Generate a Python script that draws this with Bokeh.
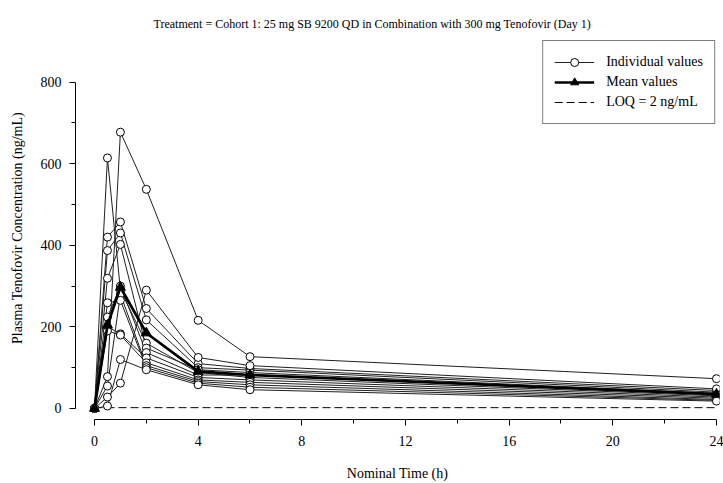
from bokeh.plotting import figure
from bokeh.models import Range1d, FixedTicker, Legend, LegendItem
from bokeh.embed import file_html
from bokeh.resources import INLINE

# ---------------- data ----------------
times = [0, 0.5, 1, 2, 4, 6, 24]

subj_01 = [0, 78, 677, 537, 216, 127, 73]
subj_02 = [0, 614, 290, 160, 88, 76, 31]
subj_03 = [0, 420, 457, 245, 110, 98, 44]
subj_04 = [0, 387, 430, 217, 100, 94, 40]
subj_05 = [0, 319, 402, 148, 95, 88, 37]
subj_06 = [0, 28, 62, 290, 125, 105, 48]
subj_07 = [0, 224, 300, 137, 82, 82, 34]
subj_08 = [0, 200, 183, 124, 76, 70, 28]
subj_09 = [0, 190, 180, 112, 70, 64, 25]
subj_10 = [0, 55, 280, 105, 66, 58, 22]
subj_11 = [0, 259, 265, 100, 62, 52, 20]
subj_12 = [0, 6, 120, 95, 58, 46, 18]

mean_values = [0, 204, 297, 185, 91, 82, 35]

loq_times = [0, 24]
loq_value = 2

x_ticks = [0, 4, 8, 12, 16, 20, 24]
x_minor = [2, 6, 10, 14, 18, 22]
y_ticks = [0, 200, 400, 600, 800]
y_minor = [100, 300, 500, 700]

subjects = [subj_01, subj_02, subj_03, subj_04, subj_05, subj_06,
            subj_07, subj_08, subj_09, subj_10, subj_11, subj_12]

TITLE = "Treatment = Cohort 1: 25 mg SB 9200 QD in Combination with 300 mg Tenofovir (Day 1)"
FONT = "Liberation Serif"

# ---------------- figure ----------------
p = figure(width=723, height=483, output_backend="svg", toolbar_location=None,
           x_range=Range1d(-0.733, 24.116), y_range=Range1d(-27, 911.5),
           min_border_left=75, min_border_right=4, min_border_top=36,
           min_border_bottom=64, title=TITLE)
p.outline_line_color = None
p.xgrid.visible = False
p.ygrid.visible = False
p.background_fill_color = "white"
p.border_fill_color = "white"

p.title.text_font = FONT
p.title.text_font_size = "12px"
p.title.text_font_style = "normal"
p.title.text_color = "black"
p.title.align = "left"
p.title.offset = 78
p.title.vertical_align = "top"
p.title.standoff = 8

for ax, ticks, minor, label in [(p.xaxis[0], x_ticks, x_minor, "Nominal Time (h)"),
                                (p.yaxis[0], y_ticks, y_minor,
                                 "Plasma Tenofovir Concentration (ng/mL)")]:
    ax.ticker = FixedTicker(ticks=ticks, minor_ticks=minor)
    ax.axis_label = label
    ax.axis_label_text_font = FONT
    ax.axis_label_text_font_size = "14px"
    ax.axis_label_text_font_style = "normal"
    ax.axis_label_text_color = "black"
    ax.major_label_text_font = FONT
    ax.major_label_text_font_size = "14px"
    ax.major_label_text_color = "black"
    ax.axis_line_color = "black"
    ax.major_tick_line_color = "black"
    ax.minor_tick_line_color = "black"
    ax.major_tick_in = 0
    ax.major_tick_out = 6
    ax.minor_tick_in = 0
    ax.minor_tick_out = 4

p.xaxis[0].bounds = (0, 24)
p.yaxis[0].bounds = (0, 800)
p.xaxis[0].major_label_standoff = 10
p.xaxis[0].axis_label_standoff = 17
p.yaxis[0].major_label_standoff = 8
p.yaxis[0].axis_label_standoff = 13

# ---------------- glyphs ----------------
loq_r = p.line(loq_times, [loq_value, loq_value], line_color="black",
               line_width=1, line_dash="8 4")

ind_lines = []
for vals in subjects:
    ind_lines.append(p.line(times, vals, line_color="#202020", line_width=1))
ind_pts = []
for vals in subjects:
    ind_pts.append(p.scatter(times, vals, marker="circle", size=8,
                             fill_color="white", line_color="black", line_width=1))

mean_line = p.line(times, mean_values, line_color="black", line_width=2.7)
mean_pts = p.scatter(times, mean_values, marker="triangle", size=10,
                     fill_color="black", line_color="black")

legend = Legend(items=[
    LegendItem(label="Individual values", renderers=[ind_lines[0], ind_pts[0]]),
    LegendItem(label="Mean values", renderers=[mean_line, mean_pts]),
    LegendItem(label="LOQ = 2 ng/mL", renderers=[loq_r]),
])
legend.location = "top_right"
legend.margin = 4
legend.padding = 11
legend.spacing = 0
legend.glyph_width = 40
legend.glyph_height = 20
legend.label_height = 20
legend.label_standoff = 12
legend.label_text_font = FONT
legend.label_text_font_size = "14px"
legend.label_text_color = "black"
legend.border_line_color = "black"
legend.border_line_width = 1
legend.background_fill_color = "white"
legend.background_fill_alpha = 1
p.add_layout(legend, "center")

open("out.html", "w").write(file_html(p, INLINE))
